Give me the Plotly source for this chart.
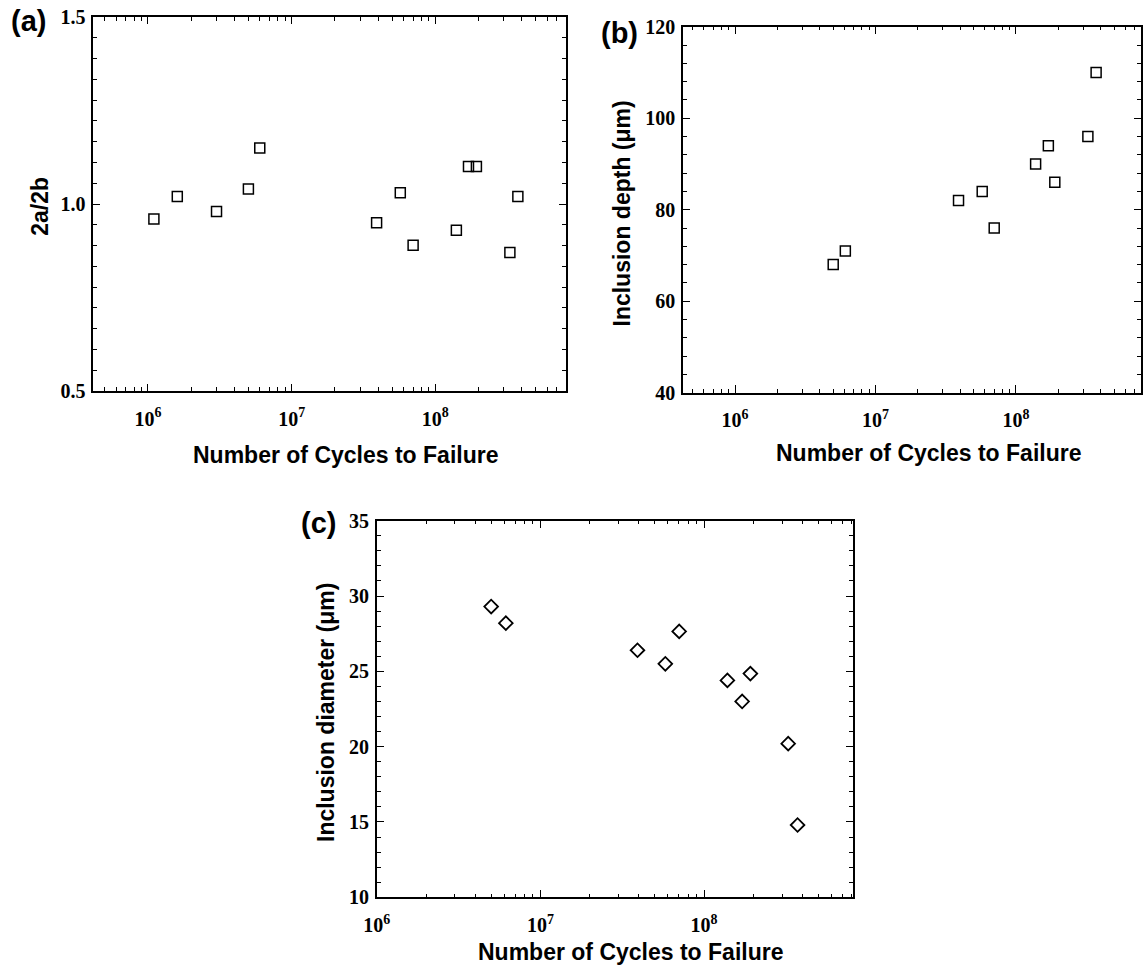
import plotly.graph_objects as go

# Panel (a): aspect ratio 2a/2b vs cycles
a_cycles = [1.1e6, 1.6e6, 3.0e6, 5.0e6, 6.0e6, 3.9e7, 5.7e7, 7.0e7, 1.4e8, 1.7e8, 1.93e8, 3.3e8, 3.75e8]
a_ratio = [0.96, 1.02, 0.98, 1.04, 1.15, 0.95, 1.03, 0.89, 0.93, 1.10, 1.10, 0.87, 1.02]

# Panel (b): inclusion depth vs cycles
b_cycles = [5.0e6, 6.1e6, 3.9e7, 5.75e7, 7.0e7, 1.38e8, 1.7e8, 1.89e8, 3.25e8, 3.72e8]
b_depth = [68, 71, 82, 84, 76, 90, 94, 86, 96, 110]

# Panel (c): inclusion diameter vs cycles
c_cycles = [5.0e6, 6.15e6, 3.92e7, 5.8e7, 7.05e7, 1.39e8, 1.71e8, 1.92e8, 3.27e8, 3.73e8]
c_diam = [29.3, 28.2, 26.4, 25.5, 27.65, 24.4, 23.0, 24.85, 20.2, 14.8]

x_tickvals = [1e6, 1e7, 1e8]
x_ticktext = ["10<sup>6</sup>", "10<sup>7</sup>", "10<sup>8</sup>"]

W, H = 1144, 968
serif = "Liberation Serif"
sans = "Liberation Sans"

fig = go.Figure()

sq_marker = dict(symbol="square-open", size=10, color="black", line=dict(width=1.5, color="black"))
fig.add_trace(go.Scatter(x=a_cycles, y=a_ratio, mode="markers", xaxis="x", yaxis="y", marker=sq_marker))
fig.add_trace(go.Scatter(x=b_cycles, y=b_depth, mode="markers", xaxis="x2", yaxis="y2", marker=sq_marker))
fig.add_trace(go.Scatter(x=c_cycles, y=c_diam, mode="markers", xaxis="x3", yaxis="y3",
                         marker=dict(symbol="diamond-open", size=10.5, color="black", line=dict(width=1.8, color="black"))))

minor_log = [m * 10 ** e for e in range(5, 9) for m in range(2, 10)]

def xaxis_cfg(domain, rng, anchor):
    return dict(domain=domain, type="log", range=rng, anchor=anchor, automargin=False,
                tickvals=x_tickvals, ticktext=x_ticktext,
                ticks="inside", ticklen=7.5, tickwidth=1.3, tickcolor="black",
                showline=True, linewidth=1.5, linecolor="black", mirror="ticks",
                showgrid=False, zeroline=False,
                tickfont=dict(family=serif, size=20, color="black", weight="bold"),
                ticklabelstandoff=9,
                minor=dict(tickvals=minor_log, ticks="inside", ticklen=4, tickwidth=1.1, tickcolor="black", showgrid=False))

def yaxis_cfg(domain, rng, dtick, minor_dtick, anchor, fmt):
    return dict(domain=domain, range=rng, dtick=dtick, tick0=rng[0], anchor=anchor, automargin=False,
                tickformat=fmt,
                ticks="inside", ticklen=7.5, tickwidth=1.3, tickcolor="black",
                showline=True, linewidth=1.5, linecolor="black", mirror="ticks",
                showgrid=False, zeroline=False,
                tickfont=dict(family=serif, size=20, color="black", weight="bold"),
                ticklabelstandoff=2,
                minor=dict(dtick=minor_dtick, tick0=rng[0], ticks="inside", ticklen=4.5, tickwidth=1.1, tickcolor="black", showgrid=False))

def px_x(p):
    return p / W

def px_y(p):
    return 1 - p / H

fig.update_layout(
    template="none",
    width=W, height=H, margin=dict(l=0, r=0, t=0, b=0, autoexpand=False),
    paper_bgcolor="white", plot_bgcolor="white", showlegend=False,
    xaxis=xaxis_cfg([px_x(93.2), px_x(566)], [5.619, 8.909], "y"),
    yaxis=yaxis_cfg([px_y(391), px_y(17)], [0.5, 1.5], 0.5, 0.5 / 9, "x", ".1f"),
    xaxis2=xaxis_cfg([px_x(682.9), px_x(1141)], [5.629, 8.89], "y2"),
    yaxis2=yaxis_cfg([px_y(392.7), px_y(26.7)], [40, 120], 20, 4, "x2", "d"),
    xaxis3=xaxis_cfg([px_x(376.8), px_x(852.9)], [6, 8.91], "y3"),
    yaxis3=yaxis_cfg([px_y(897.3), px_y(520.7)], [10, 35], 5, 1, "x3", "d"),
)

title_font = dict(family=sans, size=23, color="black", weight="bold")
label_font = dict(family=sans, size=29, color="black", weight="bold")

annotations = [
    # x titles
    dict(text="Number of Cycles to Failure", x=px_x(345), y=px_y(455), font=title_font),
    dict(text="Number of Cycles to Failure", x=px_x(928.7), y=px_y(453), font=title_font),
    dict(text="Number of Cycles to Failure", x=px_x(630), y=px_y(952), font=title_font),
    # y titles
    dict(text="2a/2b", x=px_x(39.8), y=px_y(206), font=title_font, textangle=-90),
    dict(text="Inclusion depth (μm)", x=px_x(621.5), y=px_y(214), font=title_font, textangle=-90),
    dict(text="Inclusion diameter (μm)", x=px_x(326), y=px_y(713), font=title_font, textangle=-90),
    # panel labels
    dict(text="(a)", x=px_x(28.9), y=px_y(20.5), font=label_font),
    dict(text="(b)", x=px_x(619.5), y=px_y(33.3), font=label_font),
    dict(text="(c)", x=px_x(318), y=px_y(523), font=label_font),
]
for a in annotations:
    a.update(xref="paper", yref="paper", xanchor="center", yanchor="middle", showarrow=False)
fig.update_layout(annotations=annotations)

fig.write_html("out.html",
               config={"displayModeBar": False},
               post_script="document.body.style.margin='0px'; document.body.style.overflow='hidden';")
